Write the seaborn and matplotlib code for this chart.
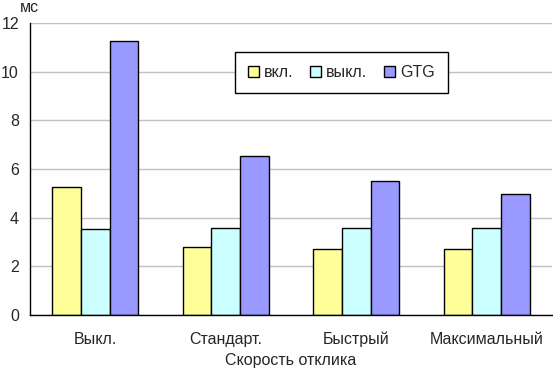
import pandas as pd
import matplotlib.pyplot as plt
import seaborn as sns
from matplotlib.ticker import FixedLocator

categories = ['Выкл.', 'Стандарт.', 'Быстрый', 'Максимальный']
series = ['вкл.', 'выкл.', 'GTG']
vkl = [5.25, 2.8, 2.7, 2.7]
vykl = [3.52, 3.57, 3.57, 3.57]
gtg = [11.25, 6.52, 5.5, 4.96]
colors = ['#FFFF99', '#CCFFFF', '#9999FF']

rows = []
for s, vals in zip(series, [vkl, vykl, gtg]):
    for c, v in zip(categories, vals):
        rows.append({'cat': c, 'series': s, 'value': v})
data = pd.DataFrame(rows)

sns.set_style('white')
plt.rcParams['font.family'] = ['Liberation Sans', 'DejaVu Sans']
plt.rcParams['font.size'] = 11.5

fig = plt.figure(figsize=(5.53, 3.74), dpi=100)
ax = fig.add_axes([30 / 553, 1 - 315 / 374, 522 / 553, 292 / 374])

sns.barplot(data=data, x='cat', y='value', hue='series', palette=colors,
            width=0.66, edgecolor='black', linewidth=1, saturation=1, ax=ax)

ax.set_ylim(0, 12)
ax.set_xlim(-0.5, 3.5)
ax.set_yticks(range(0, 13, 2))
ax.yaxis.grid(True, color='#C0C0C0', linewidth=1)
ax.set_axisbelow(True)
for side in ['top', 'right']:
    ax.spines[side].set_visible(False)
for side in ['left', 'bottom']:
    ax.spines[side].set_color('black')
    ax.spines[side].set_linewidth(1)

ax.tick_params(axis='x', which='major', length=0, pad=12)
ax.xaxis.set_minor_locator(FixedLocator([-0.5, 0.5, 1.5, 2.5, 3.5]))
ax.tick_params(axis='x', which='minor', length=5, color='black', direction='out')
ax.tick_params(axis='y', length=5, color='black', direction='out', pad=3)

ax.set_xlabel('Скорость отклика', labelpad=4)
ax.set_ylabel('')
fig.text(20 / 553, 1 - 8 / 374, 'мс', ha='left', va='center', fontsize=11.5)

leg = ax.legend(loc='upper left', bbox_to_anchor=(205 / 522, (315 - 52) / 292),
                borderaxespad=0, ncol=3, frameon=True, fancybox=False,
                edgecolor='black', handlelength=0.7, handleheight=0.7,
                handletextpad=0.3, columnspacing=1.05, borderpad=0.8,
                framealpha=1)
leg.get_frame().set_linewidth(1)

fig.savefig('out.png', dpi=100)
